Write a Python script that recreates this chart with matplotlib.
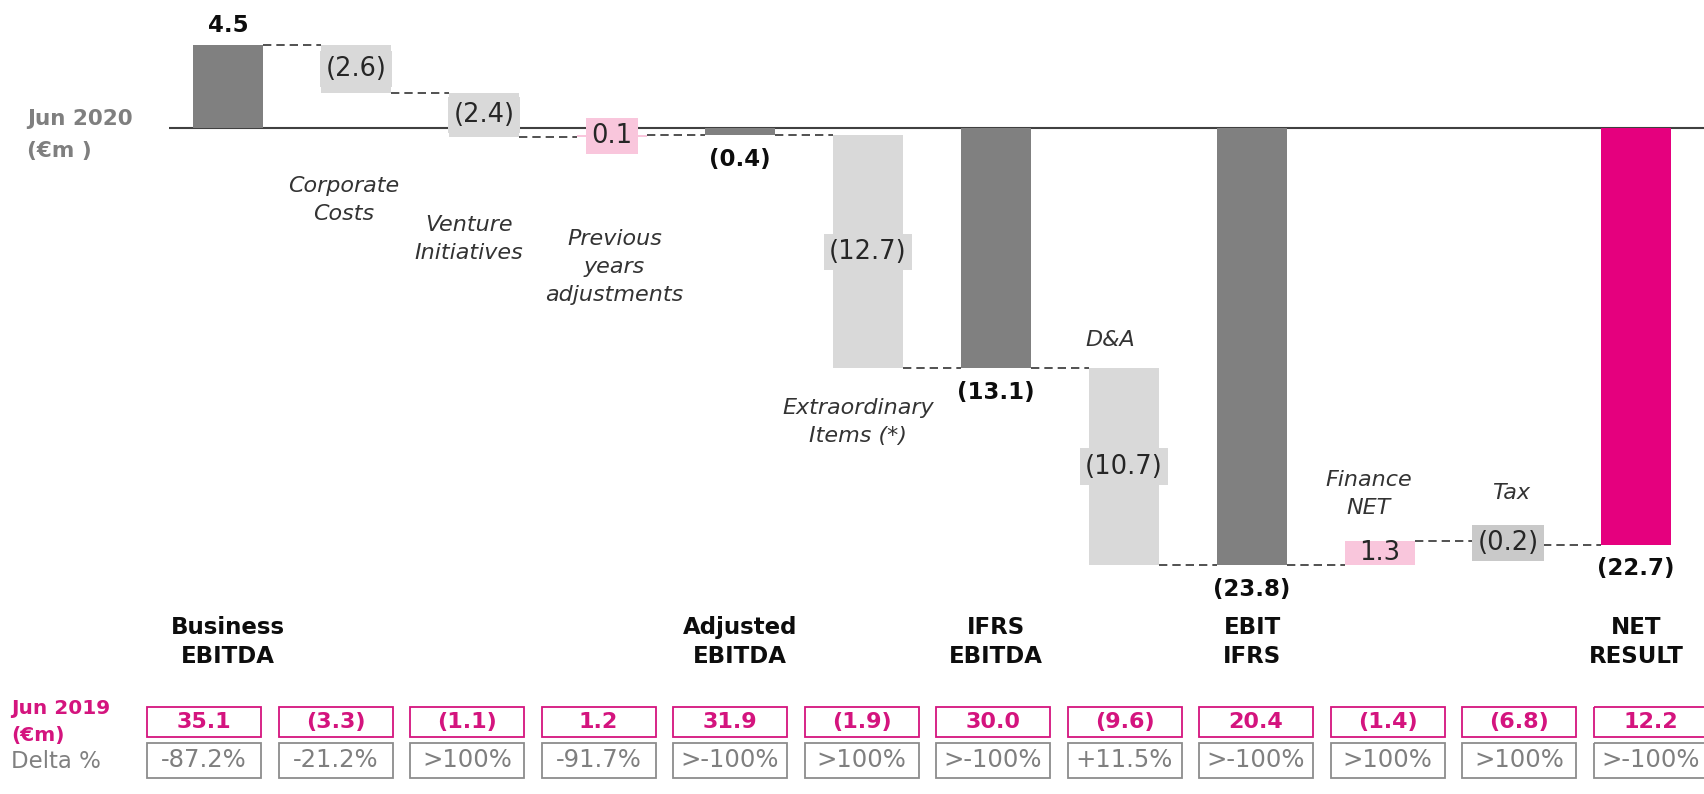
import matplotlib
matplotlib.use("Agg")
import matplotlib.pyplot as plt
from matplotlib.patches import Rectangle

plt.rcParams['font.family'] = ['DejaVu Sans']

# ---- data (EUR m) -------------------------------------------------------
steps = ["Business\nEBITDA", "Corporate\nCosts", "Venture\nInitiatives",
         "Previous\nyears\nadjustments", "Adjusted\nEBITDA",
         "Extraordinary\nItems (*)", "IFRS\nEBITDA", "D&A", "EBIT\nIFRS",
         "Finance\nNET", "Tax", "NET\nRESULT"]
values_jun2020 = [4.5, -2.6, -2.4, 0.1, -0.4, -12.7, -13.1, -10.7, -23.8, 1.3, -0.2, -22.7]
is_total = [True, False, False, False, True, False, True, False, True, False, False, True]
jun2019 = ["35.1", "(3.3)", "(1.1)", "1.2", "31.9", "(1.9)", "30.0", "(9.6)",
           "20.4", "(1.4)", "(6.8)", "12.2"]
delta_pct = ["-87.2%", "-21.2%", ">100%", "-91.7%", ">-100%", ">100%", ">-100%",
             "+11.5%", ">-100%", ">100%", ">100%", ">-100%"]

# ---- styles -------------------------------------------------------------
DARK = '#808080'
LIGHT = '#d9d9d9'
PINK = '#f9c6dc'
TAXG = '#c9c9c9'
MAGENTA = '#e5007e'
MAG_TXT = '#d4147e'
bar_colors = [DARK, LIGHT, LIGHT, PINK, DARK, LIGHT, DARK, LIGHT, DARK, PINK, TAXG, MAGENTA]


def fmt(v):
    return f"({abs(v):.1f})" if v < 0 else f"{v:.1f}"


# ---- figure / axes ------------------------------------------------------
W, H = 1704, 794
fig = plt.figure(figsize=(W / 100, H / 100), dpi=100)
fig.patch.set_facecolor('white')

X0, PITCH = 228, 128      # px of first category, px per category
Y0, PPU = 128, 18.35      # px of the zero line, px per EUR m
ax = fig.add_axes([0, 0, 1, 1])
ax.set_xlim(-X0 / PITCH, (W - X0) / PITCH)
ax.set_ylim(-(H - Y0) / PPU, Y0 / PPU)
ax.axis('off')

pax = fig.add_axes([0, 0, 1, 1], facecolor='none')
pax.set_xlim(0, W)
pax.set_ylim(H, 0)
pax.axis('off')

# ---- waterfall geometry -------------------------------------------------
n = len(values_jun2020)
bottoms, heights, ends = [], [], []
level = 0.0
for v, tot in zip(values_jun2020, is_total):
    if tot:
        bottoms.append(0.0)
        heights.append(v)
        level = v
    else:
        bottoms.append(level)
        heights.append(v)
        level = level + v
    ends.append(round(level, 6))

BW = 70 / PITCH
xs = list(range(n))

# zero line
ax.plot([(169 - X0) / PITCH, (W - X0) / PITCH], [0, 0], color='#404040', lw=1.5,
        zorder=1, solid_capstyle='butt')

ax.bar(xs, heights, bottom=bottoms, width=BW, color=bar_colors, zorder=2, linewidth=0)

# dashed connectors
for i in range(n - 1):
    lvl = ends[i]
    ax.plot([i + BW / 2, i + 1 - BW / 2], [lvl, lvl], color='#333333', lw=1.2,
            ls=(0, (5, 3)), zorder=1)

# value labels
for i, (v, tot) in enumerate(zip(values_jun2020, is_total)):
    if tot:
        off = 14 if v > 0 else -17.5
        ax.annotate(fmt(v), xy=(i, v), xytext=(0, off), textcoords='offset points',
                    ha='center', va='center', fontsize=16.5, fontweight='bold',
                    color='#0d0d0d', zorder=5)
    else:
        boxed = abs(v) * PPU < 20 or bar_colors[i] == LIGHT
        bbox = dict(boxstyle='square,pad=0.2', fc=bar_colors[i], ec='none') if boxed else None
        ax.text(i, bottoms[i] + heights[i] / 2, fmt(v), ha='center', va='center',
                fontsize=18.5, color='#262626', zorder=5, bbox=bbox)

# italic step captions (x offset from bar centre, y in EUR m)
caption_pos = {1: (-0.10, -3.9), 2: (-0.12, -6.05), 3: (0.02, -7.55),
               5: (-0.08, -16.0), 7: (-0.11, -11.55), 9: (-0.09, -19.95),
               10: (0.02, -19.9)}
for i, (dx, yv) in caption_pos.items():
    ax.text(i + dx, yv, steps[i], ha='center', va='center', fontsize=16,
            style='italic', color='#333333', zorder=5, linespacing=1.5)

# bold captions for the subtotal bars
for i, tot in enumerate(is_total):
    if tot:
        ax.text(i, (Y0 - 642) / PPU, steps[i], ha='center', va='center',
                fontsize=16.5, fontweight='bold', color='#0d0d0d', linespacing=1.3)

# ---- side captions ------------------------------------------------------
pax.text(27, 119, "Jun 2020", ha='left', va='center', fontsize=15.5,
         fontweight='bold', color='#7f7f7f')
pax.text(27, 151, "(€m )", ha='left', va='center', fontsize=15.5,
         fontweight='bold', color='#7f7f7f')
pax.text(11, 709, "Jun 2019", ha='left', va='center', fontsize=14.5,
         fontweight='bold', color=MAG_TXT)
pax.text(11, 735, "(€m)", ha='left', va='center', fontsize=14.5,
         fontweight='bold', color=MAG_TXT)
pax.text(11, 762, "Delta %", ha='left', va='center', fontsize=16.5, color='#808080')

# ---- comparison table ---------------------------------------------------
BOX_W = 114
for i in range(n):
    cx = 204 + 131.5 * i
    pax.add_patch(Rectangle((cx - BOX_W / 2, 707), BOX_W, 30, fill=False,
                            ec=MAG_TXT, lw=1.3))
    pax.text(cx, 722, jun2019[i], ha='center', va='center', fontsize=16,
             fontweight='bold', color=MAG_TXT)
    pax.add_patch(Rectangle((cx - BOX_W / 2, 743), BOX_W, 35, fill=False,
                            ec='#8c8c8c', lw=1.3))
    pax.text(cx, 760, delta_pct[i], ha='center', va='center', fontsize=17.5,
             color='#7f7f7f')

fig.savefig("out.png", dpi=100, facecolor='white')
